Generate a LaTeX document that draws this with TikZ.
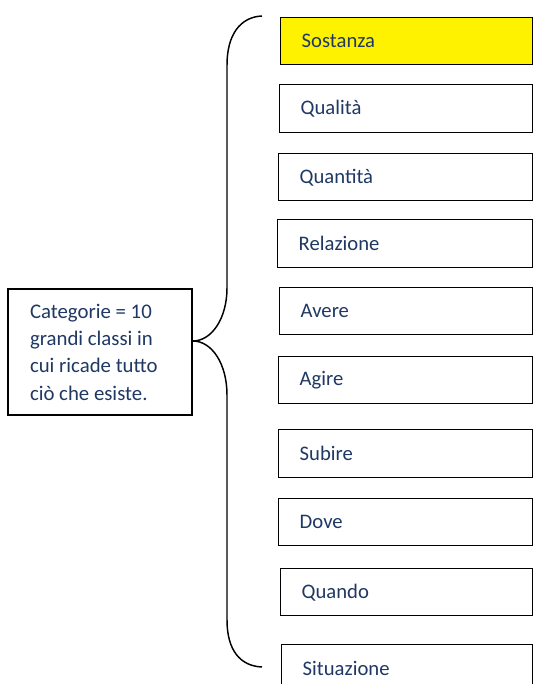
\documentclass[tikz,border=0pt]{standalone}
\usepackage{fontspec}
\setmainfont{Carlito}
\definecolor{navy}{RGB}{31,56,100}
\begin{document}
\begin{tikzpicture}[x=0.75pt,y=-0.75pt,
  cat/.style={draw=black, line width=1.1pt, rectangle, anchor=north west,
    inner xsep=15.75pt, inner ysep=0pt, align=left, text=navy,
    font=\fontsize{15.5}{18}\selectfont},
  infobox/.style={draw=black, line width=1.1pt, rectangle, align=left,
    text=navy, inner sep=0pt, font=\fontsize{15.6}{20.5}\selectfont},
  bracepath/.style={draw=black, line width=1.1pt},
]
\useasboundingbox (0,0) rectangle (533,684);
\clip (0,0) rectangle (533,684);
\fill[white] (0,0) rectangle (533,684);

\foreach \n/\l/\t/\b/\fc/\txt in {
  sost/280/17/64/yellow/Sostanza,
  qual/279/84/132/white/Qualità,
  quant/278/153/200/white/Quantità,
  rel/277/219/267/white/Relazione,
  av/279/287/334/white/Avere,
  ag/278/356/403/white/Agire,
  sub/278/429/477/white/Subire,
  dov/278/498/545/white/Dove,
  qua/280/568/615/white/Quando,
  sit/281/644/692/white/Situazione}{
  \pgfmathsetmacro\mw{(532-\l)*0.75}
  \pgfmathsetmacro\mh{(\b-\t)*0.75}
  \pgfmathsetmacro\tw{(532-\l-42)*0.75}
  \node[cat, fill=\fc, minimum width=\mw pt, minimum height=\mh pt, text width=\tw pt] (\n) at (\l,\t) {\txt};
}

\node[infobox, minimum width=138pt, minimum height=94.5pt, text width=105pt] (cat) at (100,352)
  {\spaceskip=0pt\xspaceskip=0pt Categorie = 10\\grandi classi in\\cui ricade tutto\\ciò che esiste.};

\coordinate (tip) at (cat.east |- 0,341);
\coordinate (btop) at (262,16);
\coordinate (bbot) at (262,667);
\draw[bracepath] (btop) .. controls (240,17) and (227,35) .. (227,65)
  -- (227,288) .. controls (227,318) and (212,341) .. (tip)
  .. controls (212,341) and (227,364) .. (227,395)
  -- (227,620) .. controls (227,650) and (240,666) .. (bbot);
\end{tikzpicture}
\end{document}
